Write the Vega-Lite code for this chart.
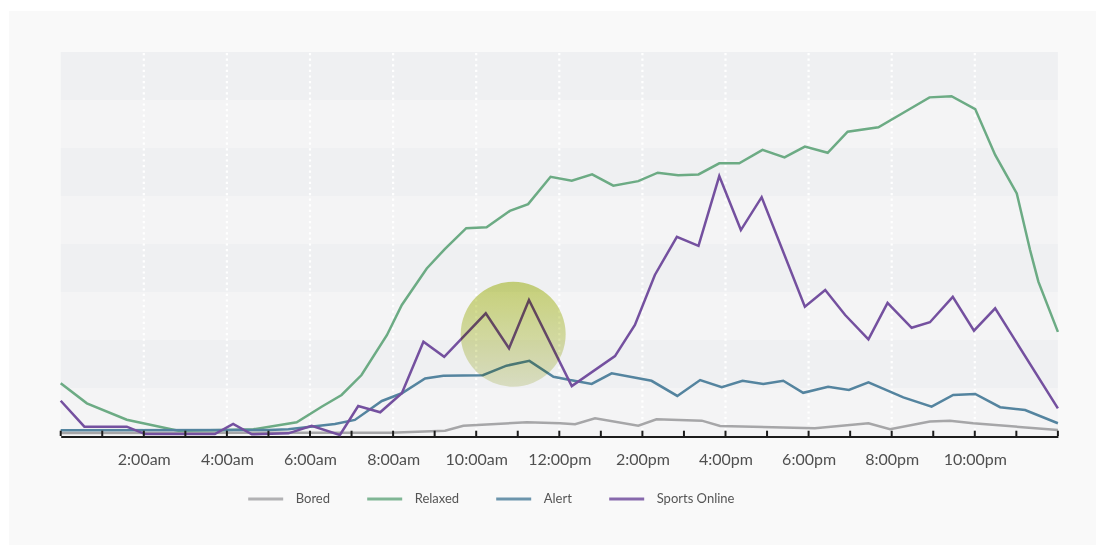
{
  "$schema": "https://vega.github.io/schema/vega-lite/v6.json",
  "width": 1087,
  "height": 534,
  "autosize": {"type": "none"},
  "padding": {"left": 9, "top": 11, "right": 9, "bottom": 7},
  "background": "#ffffff",
  "config": {
    "view": {"fill": "#f9f9f9", "stroke": null},
    "font": "Lato",
    "axisX": {
      "title": null,
      "tickCount": 24,
      "labelExpr": "datum.value % 2 === 0 && datum.value > 0 && datum.value < 24 ? ((datum.value % 12 === 0 ? 12 : datum.value % 12) + ':00' + (datum.value < 12 ? 'am' : 'pm')) : ''",
      "grid": false,
      "ticks": false,
      "domainColor": "#1c1c1c",
      "domainWidth": 3,
      "labelFont": "Lato",
      "labelFontSize": 16,
      "labelColor": "#505050",
      "labelPadding": 15,
      "labelFlush": false,
      "labelOverlap": false,
      "offset": -109,
      "zindex": 1
    }
  },
  "datasets": {
    "bands": [
      {"lo": 0, "hi": 10, "shade": "light"},
      {"lo": 10, "hi": 20, "shade": "dark"},
      {"lo": 20, "hi": 30, "shade": "light"},
      {"lo": 30, "hi": 40, "shade": "dark"},
      {"lo": 40, "hi": 50, "shade": "light"},
      {"lo": 50, "hi": 60, "shade": "dark"},
      {"lo": 60, "hi": 70, "shade": "light"},
      {"lo": 70, "hi": 80, "shade": "dark"}
    ],
    "gridHours": [
      {"hour": 2}, {"hour": 4}, {"hour": 6}, {"hour": 8}, {"hour": 10}, {"hour": 12},
      {"hour": 14}, {"hour": 16}, {"hour": 18}, {"hour": 20}, {"hour": 22}
    ],
    "tickHours": [
      {"hour": 0}, {"hour": 1}, {"hour": 2}, {"hour": 3}, {"hour": 4}, {"hour": 5}, {"hour": 6},
      {"hour": 7}, {"hour": 8}, {"hour": 9}, {"hour": 10}, {"hour": 11}, {"hour": 12}, {"hour": 13},
      {"hour": 14}, {"hour": 15}, {"hour": 16}, {"hour": 17}, {"hour": 18}, {"hour": 19}, {"hour": 20},
      {"hour": 21}, {"hour": 22}, {"hour": 23}, {"hour": 24}
    ],
    "highlight": [{"hour": 10.89, "value": 21.2}],
    "series": [
      {"series": "Bored", "hour": 0, "value": 0.65},
      {"series": "Bored", "hour": 7.93, "value": 0.7},
      {"series": "Bored", "hour": 9.25, "value": 1.1},
      {"series": "Bored", "hour": 9.69, "value": 2.15},
      {"series": "Bored", "hour": 11.22, "value": 2.85},
      {"series": "Bored", "hour": 12.02, "value": 2.65},
      {"series": "Bored", "hour": 12.38, "value": 2.45},
      {"series": "Bored", "hour": 12.86, "value": 3.7},
      {"series": "Bored", "hour": 13.9, "value": 2.15},
      {"series": "Bored", "hour": 14.34, "value": 3.5},
      {"series": "Bored", "hour": 15.43, "value": 3.2},
      {"series": "Bored", "hour": 15.87, "value": 2.1},
      {"series": "Bored", "hour": 18.15, "value": 1.6},
      {"series": "Bored", "hour": 19.44, "value": 2.65},
      {"series": "Bored", "hour": 19.96, "value": 1.4},
      {"series": "Bored", "hour": 20.92, "value": 3.0},
      {"series": "Bored", "hour": 21.4, "value": 3.2},
      {"series": "Bored", "hour": 21.96, "value": 2.65},
      {"series": "Bored", "hour": 24, "value": 1.25},

      {"series": "Relaxed", "hour": 0, "value": 11.0},
      {"series": "Relaxed", "hour": 0.63, "value": 6.8},
      {"series": "Relaxed", "hour": 1.59, "value": 3.4},
      {"series": "Relaxed", "hour": 2.83, "value": 1.1},
      {"series": "Relaxed", "hour": 3.95, "value": 1.25},
      {"series": "Relaxed", "hour": 4.64, "value": 1.4},
      {"series": "Relaxed", "hour": 5.68, "value": 2.85},
      {"series": "Relaxed", "hour": 6.28, "value": 6.1},
      {"series": "Relaxed", "hour": 6.76, "value": 8.55},
      {"series": "Relaxed", "hour": 7.24, "value": 12.7},
      {"series": "Relaxed", "hour": 7.85, "value": 21.0},
      {"series": "Relaxed", "hour": 8.21, "value": 27.3},
      {"series": "Relaxed", "hour": 8.81, "value": 34.9},
      {"series": "Relaxed", "hour": 9.25, "value": 39.0},
      {"series": "Relaxed", "hour": 9.76, "value": 43.3},
      {"series": "Relaxed", "hour": 10.25, "value": 43.5},
      {"series": "Relaxed", "hour": 10.81, "value": 46.9},
      {"series": "Relaxed", "hour": 11.25, "value": 48.3},
      {"series": "Relaxed", "hour": 11.79, "value": 54.0},
      {"series": "Relaxed", "hour": 12.3, "value": 53.2},
      {"series": "Relaxed", "hour": 12.79, "value": 54.5},
      {"series": "Relaxed", "hour": 13.3, "value": 52.15},
      {"series": "Relaxed", "hour": 13.9, "value": 53.1},
      {"series": "Relaxed", "hour": 14.37, "value": 54.85},
      {"series": "Relaxed", "hour": 14.86, "value": 54.3},
      {"series": "Relaxed", "hour": 15.35, "value": 54.5},
      {"series": "Relaxed", "hour": 15.85, "value": 56.8},
      {"series": "Relaxed", "hour": 16.33, "value": 56.8},
      {"series": "Relaxed", "hour": 16.89, "value": 59.6},
      {"series": "Relaxed", "hour": 17.42, "value": 58.05},
      {"series": "Relaxed", "hour": 17.91, "value": 60.3},
      {"series": "Relaxed", "hour": 18.46, "value": 59.0},
      {"series": "Relaxed", "hour": 18.94, "value": 63.4},
      {"series": "Relaxed", "hour": 19.68, "value": 64.3},
      {"series": "Relaxed", "hour": 20.27, "value": 67.3},
      {"series": "Relaxed", "hour": 20.91, "value": 70.55},
      {"series": "Relaxed", "hour": 21.44, "value": 70.8},
      {"series": "Relaxed", "hour": 22.01, "value": 68.1},
      {"series": "Relaxed", "hour": 22.49, "value": 58.55},
      {"series": "Relaxed", "hour": 23.01, "value": 50.55},
      {"series": "Relaxed", "hour": 23.33, "value": 38.75},
      {"series": "Relaxed", "hour": 23.53, "value": 32.15},
      {"series": "Relaxed", "hour": 24, "value": 21.7},

      {"series": "Alert", "hour": 0, "value": 1.2},
      {"series": "Alert", "hour": 5.0, "value": 1.25},
      {"series": "Alert", "hour": 5.48, "value": 1.4},
      {"series": "Alert", "hour": 6.6, "value": 2.5},
      {"series": "Alert", "hour": 7.08, "value": 3.35},
      {"series": "Alert", "hour": 7.73, "value": 7.3},
      {"series": "Alert", "hour": 8.21, "value": 8.9},
      {"series": "Alert", "hour": 8.77, "value": 12.0},
      {"series": "Alert", "hour": 9.21, "value": 12.55},
      {"series": "Alert", "hour": 10.16, "value": 12.65},
      {"series": "Alert", "hour": 10.73, "value": 14.65},
      {"series": "Alert", "hour": 11.28, "value": 15.65},
      {"series": "Alert", "hour": 11.86, "value": 12.35},
      {"series": "Alert", "hour": 12.26, "value": 11.65},
      {"series": "Alert", "hour": 12.78, "value": 10.85},
      {"series": "Alert", "hour": 13.26, "value": 13.05},
      {"series": "Alert", "hour": 14.22, "value": 11.5},
      {"series": "Alert", "hour": 14.84, "value": 8.35},
      {"series": "Alert", "hour": 15.39, "value": 11.65},
      {"series": "Alert", "hour": 15.91, "value": 10.15},
      {"series": "Alert", "hour": 16.41, "value": 11.5},
      {"series": "Alert", "hour": 16.91, "value": 10.85},
      {"series": "Alert", "hour": 17.39, "value": 11.5},
      {"series": "Alert", "hour": 17.87, "value": 9.0},
      {"series": "Alert", "hour": 18.47, "value": 10.25},
      {"series": "Alert", "hour": 18.97, "value": 9.6},
      {"series": "Alert", "hour": 19.44, "value": 11.2},
      {"series": "Alert", "hour": 20.28, "value": 8.05},
      {"series": "Alert", "hour": 20.96, "value": 6.1},
      {"series": "Alert", "hour": 21.48, "value": 8.55},
      {"series": "Alert", "hour": 22.01, "value": 8.75},
      {"series": "Alert", "hour": 22.61, "value": 6.0},
      {"series": "Alert", "hour": 23.21, "value": 5.4},
      {"series": "Alert", "hour": 24, "value": 2.65},

      {"series": "Sports Online", "hour": 0, "value": 7.35},
      {"series": "Sports Online", "hour": 0.57, "value": 1.95},
      {"series": "Sports Online", "hour": 1.59, "value": 1.95},
      {"series": "Sports Online", "hour": 2.03, "value": 0.4},
      {"series": "Sports Online", "hour": 3.71, "value": 0.4},
      {"series": "Sports Online", "hour": 4.15, "value": 2.5},
      {"series": "Sports Online", "hour": 4.6, "value": 0.35},
      {"series": "Sports Online", "hour": 5.48, "value": 0.55},
      {"series": "Sports Online", "hour": 6.04, "value": 2.1},
      {"series": "Sports Online", "hour": 6.72, "value": 0.2},
      {"series": "Sports Online", "hour": 7.16, "value": 6.25},
      {"series": "Sports Online", "hour": 7.69, "value": 4.95},
      {"series": "Sports Online", "hour": 8.21, "value": 8.9},
      {"series": "Sports Online", "hour": 8.73, "value": 19.65},
      {"series": "Sports Online", "hour": 9.23, "value": 16.5},
      {"series": "Sports Online", "hour": 10.23, "value": 25.55},
      {"series": "Sports Online", "hour": 10.79, "value": 18.25},
      {"series": "Sports Online", "hour": 11.27, "value": 28.35},
      {"series": "Sports Online", "hour": 12.3, "value": 10.4},
      {"series": "Sports Online", "hour": 13.34, "value": 16.65},
      {"series": "Sports Online", "hour": 13.82, "value": 23.15},
      {"series": "Sports Online", "hour": 14.3, "value": 33.55},
      {"series": "Sports Online", "hour": 14.83, "value": 41.5},
      {"series": "Sports Online", "hour": 15.35, "value": 39.6},
      {"series": "Sports Online", "hour": 15.85, "value": 54.15},
      {"series": "Sports Online", "hour": 16.37, "value": 42.9},
      {"series": "Sports Online", "hour": 16.87, "value": 49.75},
      {"series": "Sports Online", "hour": 17.91, "value": 26.95},
      {"series": "Sports Online", "hour": 18.4, "value": 30.4},
      {"series": "Sports Online", "hour": 18.88, "value": 25.2},
      {"series": "Sports Online", "hour": 19.44, "value": 20.15},
      {"series": "Sports Online", "hour": 19.9, "value": 27.75},
      {"series": "Sports Online", "hour": 20.48, "value": 22.55},
      {"series": "Sports Online", "hour": 20.92, "value": 23.7},
      {"series": "Sports Online", "hour": 21.47, "value": 29.0},
      {"series": "Sports Online", "hour": 21.98, "value": 21.95},
      {"series": "Sports Online", "hour": 22.49, "value": 26.6},
      {"series": "Sports Online", "hour": 24, "value": 5.75}
    ]
  },
  "layer": [
    {
      "data": {"name": "bands"},
      "mark": {"type": "rect"},
      "encoding": {
        "x": {"datum": 0, "type": "quantitative", "scale": {"domain": [0, 24], "range": [51.7, 1048.9]}},
        "x2": {"datum": 24},
        "y": {"field": "lo", "type": "quantitative", "scale": {"domain": [0, 80], "range": [425, 41]}, "axis": null},
        "y2": {"field": "hi"},
        "fill": {"field": "shade", "type": "nominal", "scale": {"domain": ["dark", "light"], "range": ["#eff0f2", "#f4f4f5"]}, "legend": null}
      }
    },
    {
      "data": {"name": "gridHours"},
      "mark": {"type": "rule", "color": "#ffffff", "strokeWidth": 2.2, "strokeDash": [2.2, 3.4]},
      "encoding": {
        "x": {"field": "hour", "type": "quantitative", "scale": {"domain": [0, 24], "range": [51.7, 1048.9]}},
        "y": {"datum": 0, "type": "quantitative", "scale": {"domain": [0, 80], "range": [425, 41]}, "axis": null},
        "y2": {"datum": 80}
      }
    },
    {
      "data": {"name": "series"},
      "mark": {"type": "line", "strokeWidth": 2.5},
      "encoding": {
        "x": {"field": "hour", "type": "quantitative", "scale": {"domain": [0, 24], "range": [51.7, 1048.9]}},
        "y": {"field": "value", "type": "quantitative", "scale": {"domain": [0, 80], "range": [425, 41]}, "axis": null},
        "color": {
          "field": "series",
          "type": "nominal",
          "scale": {"domain": ["Bored", "Relaxed", "Alert", "Sports Online"], "range": ["#a6a6a8", "#6cab84", "#54849f", "#74509f"]},
          "legend": {
            "title": null,
            "orient": "none",
            "legendX": 237.7,
            "legendY": 469,
            "direction": "horizontal",
            "symbolType": "stroke",
            "symbolSize": 1225,
            "symbolStrokeWidth": 3,
            "symbolOpacity": 0.85,
            "labelFont": "Lato",
            "labelFontSize": 13,
            "labelColor": "#555555",
            "labelOffset": 11,
            "columnPadding": 30
          }
        }
      }
    },
    {
      "data": {"name": "tickHours"},
      "mark": {"type": "rule", "color": "#1c1c1c", "strokeWidth": 2},
      "encoding": {
        "x": {"field": "hour", "type": "quantitative", "scale": {"domain": [0, 24], "range": [51.7, 1048.9]}},
        "y": {"datum": 0, "type": "quantitative", "scale": {"domain": [0, 80], "range": [425, 41]}, "axis": null},
        "y2": {"datum": 1.1}
      }
    },
    {
      "data": {"name": "highlight"},
      "mark": {
        "type": "point",
        "shape": "circle",
        "filled": true,
        "size": 11025,
        "opacity": 1,
        "strokeWidth": 0,
        "blend": "multiply",
        "fill": {
          "gradient": "linear",
          "x1": 0.5, "y1": 0, "x2": 0.5, "y2": 1,
          "stops": [
            {"offset": 0, "color": "#ced97c"},
            {"offset": 1, "color": "#e7eacb"}
          ]
        }
      },
      "encoding": {
        "x": {"field": "hour", "type": "quantitative", "scale": {"domain": [0, 24], "range": [51.7, 1048.9]}},
        "y": {"field": "value", "type": "quantitative", "scale": {"domain": [0, 80], "range": [425, 41]}, "axis": null}
      }
    }
  ]
}
